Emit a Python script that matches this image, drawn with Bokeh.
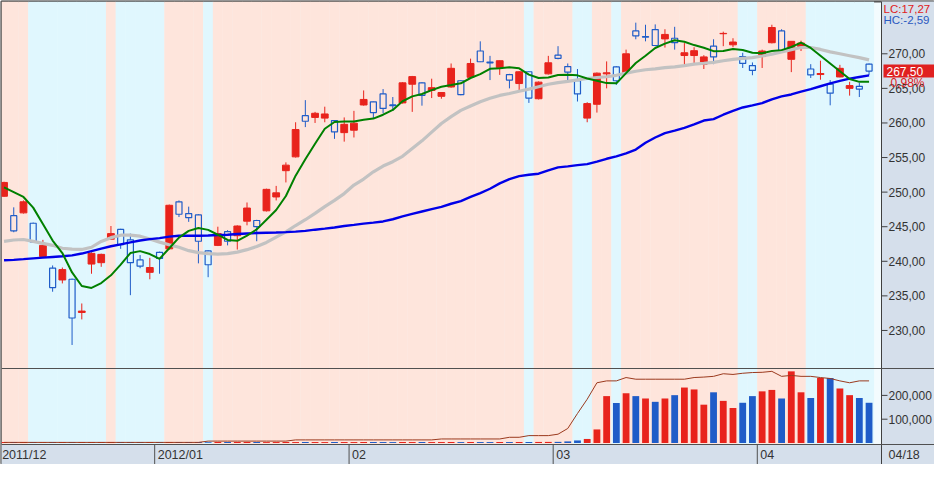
import numpy as np
from bokeh.plotting import figure
from bokeh.models import Range1d, Span
from bokeh.core.properties import value
from bokeh.embed import file_html
from bokeh.resources import INLINE

# ---------------- data ----------------
opens = [249.4, 246.6, 247.0, 245.5, 240.7, 239.0, 237.3, 237.4, 232.6, 239.6,
         239.8, 243.2, 244.6, 243.1, 240.2, 238.4, 241.3, 241.8, 248.6, 246.9,
         246.7, 241.5, 242.3, 244.3, 243.7, 245.8, 245.9, 247.3, 249.3, 253.1,
         255.1, 261.05, 260.8, 260.7, 260.35, 258.6, 258.95, 262.6, 263.05, 264.2,
         262.6, 262.9, 265.6, 265.8, 264.7, 263.85, 265.2, 266.1, 266.6, 270.4,
         268.8, 268.0, 267.0, 265.7, 267.4, 263.5, 267.1, 269.8, 268.15, 266.1,
         260.7, 262.7, 267.1, 268.1, 267.25, 273.3, 272.5, 273.5, 272.15, 272.25,
         269.75, 269.75, 268.5, 271.1, 272.9, 271.3, 269.6, 268.3, 269.6, 271.6,
         273.3, 269.2, 271.05, 267.8, 267.0, 265.6, 266.65, 265.0, 265.3, 268.5]
highs = [251.5, 247.8, 248.8, 245.6, 243.1, 239.4, 239.1, 237.5, 233.9, 241.3,
         241.1, 245.1, 244.7, 244.0, 240.9, 240.5, 241.4, 248.2, 248.8, 247.9,
         246.8, 241.6, 245.0, 244.5, 245.2, 248.5, 246.0, 250.5, 250.9, 254.3,
         260.1, 263.3, 261.6, 262.35, 260.4, 260.8, 261.75, 264.7, 263.1, 264.9,
         263.75, 265.9, 266.8, 265.9, 266.4, 264.45, 268.6, 266.2, 269.3, 271.8,
         269.7, 269.05, 267.1, 267.5, 267.5, 266.0, 269.7, 271.1, 268.6, 267.8,
         263.0, 267.3, 268.9, 268.2, 270.6, 274.5, 274.2, 274.25, 273.55, 273.9,
         271.55, 270.95, 269.8, 272.1, 273.2, 272.25, 270.15, 268.75, 270.6, 274.2,
         273.55, 271.85, 271.9, 268.5, 269.0, 266.2, 268.4, 265.95, 265.8, 268.6]
lows = [249.3, 244.2, 246.9, 242.7, 240.5, 235.6, 236.8, 227.9, 231.6, 238.2,
        239.2, 243.1, 241.8, 235.1, 239.0, 237.4, 238.2, 241.7, 246.4, 245.7,
        239.7, 237.7, 242.2, 242.3, 241.7, 245.2, 242.9, 247.2, 248.8, 251.4,
        255.0, 259.4, 260.0, 260.1, 257.7, 257.3, 257.9, 262.5, 260.6, 261.4,
        261.75, 262.8, 261.6, 262.5, 263.6, 263.5, 265.1, 264.0, 266.5, 268.8,
        266.2, 266.95, 265.0, 264.5, 262.9, 263.4, 267.0, 269.2, 266.1, 263.1,
        260.1, 261.5, 265.0, 265.5, 267.2, 272.1, 271.8, 271.1, 270.9, 270.6,
        268.35, 268.5, 267.8, 268.5, 271.1, 270.95, 267.95, 266.9, 267.95, 271.5,
        270.4, 267.35, 270.4, 266.5, 266.25, 262.55, 266.6, 263.95, 263.75, 266.9]
closes = [251.4, 244.4, 248.6, 242.8, 242.3, 236.2, 238.8, 231.8, 232.8, 241.15,
          241.0, 244.0, 242.4, 239.8, 239.3, 239.1, 240.4, 248.1, 246.8, 246.3,
          242.9, 239.5, 244.0, 242.9, 245.1, 247.7, 245.0, 250.4, 249.9, 253.9,
          259.05, 260.25, 261.4, 261.3, 258.7, 259.8, 259.97, 263.4, 261.5, 262.1,
          262.5, 265.8, 266.7, 264.0, 265.1, 264.4, 267.9, 264.1, 268.6, 268.85,
          268.7, 269.0, 266.2, 267.4, 263.6, 265.9, 268.7, 269.35, 267.35, 264.2,
          262.8, 267.2, 267.25, 266.1, 270.0, 272.6, 272.4, 271.2, 272.8, 271.6,
          270.15, 270.45, 269.55, 269.55, 272.95, 271.7, 268.6, 267.6, 270.4, 273.8,
          270.5, 271.8, 271.55, 266.95, 267.15, 264.3, 267.9, 265.4, 264.9, 267.5]

ma5 = [250.70, 250.00, 249.30, 247.76, 245.38, 243.00, 241.19, 238.39, 236.43, 236.15,
       236.85, 237.97, 239.51, 241.19, 241.47, 241.05, 240.35, 241.89, 243.42, 244.40,
       244.82, 244.54, 243.84, 243.08, 242.96, 243.70, 244.61, 246.01, 247.41, 249.44,
       252.38, 254.75, 256.99, 259.16, 260.14, 260.21, 260.21, 260.45, 260.63, 261.19,
       261.89, 263.14, 263.84, 264.19, 264.75, 265.24, 265.48, 265.73, 266.50, 267.06,
       267.83, 267.90, 268.04, 267.90, 266.99, 266.50, 266.57, 266.92, 266.96, 266.88,
       266.43, 266.11, 265.76, 265.73, 267.20, 268.67, 269.72, 270.84, 271.47, 271.96,
       271.75, 271.26, 270.88, 270.38, 270.39, 270.70, 270.56, 270.14, 270.07, 270.39,
       270.53, 270.98, 271.61, 270.84, 269.72, 268.60, 267.48, 266.36, 265.94, 265.94]
ma20 = [242.87, 243.08, 243.15, 242.87, 242.59, 242.31, 241.89, 241.75, 241.71, 242.03,
        242.87, 243.42, 243.77, 243.77, 243.63, 243.21, 242.77, 242.38, 242.03, 241.54,
        241.26, 241.12, 241.05, 241.12, 241.33, 241.68, 242.13, 242.73, 243.50, 244.26,
        245.17, 246.01, 246.92, 247.90, 248.81, 249.79, 251.02, 251.89, 252.94, 253.77,
        254.40, 255.17, 256.29, 257.41, 258.67, 259.93, 260.91, 261.82, 262.45, 263.07,
        263.56, 263.98, 264.26, 264.59, 264.89, 265.24, 265.59, 265.84, 266.01, 266.22,
        266.43, 266.57, 266.68, 266.89, 267.20, 267.48, 267.69, 267.83, 268.00, 268.12,
        268.29, 268.51, 268.63, 268.77, 268.99, 269.20, 269.33, 269.44, 269.68, 269.93,
        270.28, 270.61, 270.91, 270.91, 270.63, 270.28, 270.00, 269.72, 269.44, 269.12]
ma60 = [240.14, 240.21, 240.31, 240.42, 240.53, 240.63, 240.72, 240.86, 241.12, 241.47,
        241.82, 242.17, 242.45, 242.73, 243.01, 243.21, 243.35, 243.57, 243.70, 243.70,
        243.70, 243.73, 243.80, 243.84, 243.94, 244.01, 244.08, 244.12, 244.16, 244.22,
        244.29, 244.40, 244.57, 244.72, 244.89, 245.10, 245.27, 245.45, 245.59, 245.76,
        246.08, 246.50, 246.85, 247.20, 247.55, 247.86, 248.32, 248.70, 249.30, 249.86,
        250.49, 251.26, 251.89, 252.31, 252.52, 252.66, 253.15, 253.57, 253.73, 253.91,
        254.05, 254.40, 254.82, 255.17, 255.59, 256.15, 257.13, 257.90, 258.53, 258.88,
        259.30, 259.79, 260.35, 260.56, 261.19, 261.75, 262.24, 262.54, 262.87, 263.42,
        263.84, 264.12, 264.54, 264.89, 265.31, 265.73, 266.08, 266.40, 266.64, 266.88]

volume = [4200, 3800, 4500, 4000, 3600, 4300, 4100, 3900, 4400, 4000,
          3700, 4200, 4000, 4300, 3900, 4100, 3800, 4000, 4400, 4200,
          4000, 3600, 3900, 4100, 3800, 4000, 4200, 3700, 4000, 4300,
          3900, 4100, 4000, 3800, 4200, 4000, 3900, 4100, 4300, 4000,
          3800, 4200, 4000, 4100, 3900, 4000, 4200, 3800, 4100, 4000,
          3900, 4300, 4000, 4100, 4200, 4400, 4600, 4800, 6700, 10700,
          17000, 57000, 197000, 168000, 209000, 197000, 187000, 173000, 187000, 201000,
          233000, 225000, 161000, 213000, 177000, 147000, 169000, 197000, 217000, 223000,
          187000, 301000, 213000, 189000, 273000, 273000, 229000, 201000, 189000, 169000]
vol_dir = ("ududududuu" "uudddududd" "dduduuduuu" "uduuduuudd" "duuduuudud"
           "dududuuddd" "uuudududud" "uuuduudduu" "duududuudd")
vol_ma = [2500, 2500, 2500, 2500, 2500, 2500, 2500, 2500, 2500, 2500,
          2500, 2500, 2500, 2500, 2500, 2500, 2500, 2500, 2500, 2500,
          2500, 8000, 8000, 8000, 8000, 8000, 8000, 8000, 8000, 8000,
          13000, 13000, 13000, 13000, 13000, 13000, 13000, 13000, 13000, 13000,
          13000, 13000, 13000, 13000, 13000, 17000, 17000, 17000, 17000, 17000,
          17000, 17000, 24000, 24000, 31000, 31000, 31000, 37000, 61000, 124000,
          184000, 253000, 261000, 261000, 275000, 268000, 268000, 268000, 268000, 268000,
          268000, 275000, 277000, 280000, 291000, 288000, 293000, 296000, 297000, 301000,
          280000, 284000, 280000, 280000, 275000, 271000, 261000, 253000, 261000, 261000]

band_runs = [("p", 3), ("b", 8), ("p", 1), ("b", 5), ("p", 4), ("b", 1), ("p", 32),
             ("b", 1), ("p", 4), ("b", 2), ("p", 2), ("b", 1), ("p", 12), ("b", 2),
             ("p", 5), ("b", 7)]
month_starts = [0, 16, 36, 57, 78]
month_labels = ["2011/12", "2012/01", "02", "03", "04"]
last_date = "04/18"
price_ticks = [230.0, 235.0, 240.0, 245.0, 250.0, 255.0, 260.0, 265.0, 270.0]
vol_ticks = [100000, 200000]
lc_text = "LC:17,27"
hc_text = "HC:-2,59"

# ---------------- layout ----------------
W, H = 934, 464
FW, FH = W - 1, H - 1            # frame size (1px left/top border)
MAIN_W = 880                     # chart area width; the rest is the value panel
PANEL_W = FW - MAIN_W
MAIN_H, VOL_H = 367, 76
P_TOP, P_MAIN_BOT = 277.56, 224.5
ppx = (P_TOP - P_MAIN_BOT) / MAIN_H
P_MIN = P_TOP - FH * ppx
STRIP_TOP = P_TOP - (MAIN_H + VOL_H) * ppx
V_TOP = 313000
vzero_row = MAIN_H + VOL_H - 1.5
vpx = V_TOP / (vzero_row - MAIN_H)
V_MIN = -(FH - vzero_row) * vpx
V_MAX = vzero_row * vpx
X0, X1 = -0.26, 90.28
pxx = (X1 - X0) / MAIN_W
XR = X1 + PANEL_W * pxx

RED = "#e8231c"
BLUE = "#1f5cc8"
PANEL = "#d5dfeb"
AXC = "#404040"
FONT = "Liberation Sans"

n = len(closes)
idx = np.arange(n)
o = np.array(opens); c = np.array(closes); h = np.array(highs); l = np.array(lows)
up = c >= o
top = np.maximum(o, c); bot = np.minimum(o, c)

p = figure(width=W, height=H, x_range=Range1d(X0, XR), y_range=Range1d(P_MIN, P_TOP),
           output_backend="svg", toolbar_location=None, title=None,
           y_axis_location=None, x_axis_location=None,
           min_border_left=1, min_border_top=1, min_border_bottom=0, min_border_right=0,
           background_fill_color="#f3fbfe", border_fill_color="#606060",
           outline_line_color="#555555", outline_line_width=2)
p.extra_y_ranges = {"vol": Range1d(V_MIN, V_MAX)}
p.grid.visible = False


def tfont(size):
    return dict(text_font=value(FONT), text_font_size=size)


# background bands
band_colors = {"p": "#fee5dc", "b": "#e0f7fe"}
bc = []
for code, cnt in band_runs:
    bc += [band_colors[code]] * cnt
p.vbar(x=idx, width=1.03, top=P_TOP, bottom=STRIP_TOP, fill_color=bc, line_color=None)

# volume panel
vcol = [RED if d == "u" else BLUE for d in vol_dir]
p.vbar(x=idx, width=0.7, top=volume, bottom=0, fill_color=vcol, line_color=None,
       y_range_name="vol")
p.line(idx, vol_ma, line_color="#9b3a1e", line_width=1, y_range_name="vol")

# candles
for mask, col in ((up, RED), (~up, BLUE)):
    xs = idx[mask]
    p.segment(x0=xs, y0=top[mask], x1=xs, y1=h[mask], line_color=col, line_width=1)
    p.segment(x0=xs, y0=l[mask], x1=xs, y1=bot[mask], line_color=col, line_width=1)
p.vbar(x=idx[up], width=0.7, top=top[up], bottom=bot[up], fill_color=RED, line_color=RED)
p.vbar(x=idx[~up], width=0.62, top=top[~up], bottom=bot[~up], fill_alpha=0,
       line_color=BLUE, line_width=1.2)

# moving averages
p.line(idx, ma20, line_color="#c2c2c2", line_width=3.2)
p.line(idx, ma60, line_color="#0000e8", line_width=2.4)
p.line(idx, ma5, line_color="#008000", line_width=2)

# date strip
p.quad(left=X0 - 1, right=XR + 1, bottom=P_MIN - 1, top=STRIP_TOP, fill_color=PANEL, line_color=None)
ms = [m - 0.5 for m in month_starts]
p.segment(x0=ms[1:], y0=P_MIN, x1=ms[1:], y1=STRIP_TOP, line_color="#505050", line_width=1)
p.text(x=ms, y=(P_MIN + STRIP_TOP) / 2, text=month_labels, x_offset=3,
       text_align="left", text_baseline="middle", text_color="#333333", **tfont("12.5px"))

# value panel on the right
p.quad(left=X1, right=XR + 1, bottom=P_MIN - 1, top=P_TOP + 1, fill_color=PANEL, line_color=None)
p.segment(x0=[X1], y0=[P_MIN], x1=[X1], y1=[P_TOP], line_color=AXC, line_width=1)
vol_tick_pos = [P_MIN + (v - V_MIN) / (V_MAX - V_MIN) * (P_TOP - P_MIN) for v in vol_ticks]
tick_pos = price_ticks + vol_tick_pos
tick_txt = [("%.2f" % t).replace(".", ",") for t in price_ticks] + [f"{v:,}" for v in vol_ticks]
p.segment(x0=X1, y0=tick_pos, x1=X1 + 6 * pxx, y1=tick_pos, line_color=AXC, line_width=1)
p.text(x=X1, y=tick_pos, text=tick_txt, x_offset=7, text_align="left", text_baseline="middle",
       text_color="#333333", **tfont("12px"))

last = closes[-1]
chg = (closes[-1] / closes[-2] - 1) * 100
half = 6.5 * ppx
p.quad(left=X1 + 2 * pxx, right=XR + 1, bottom=last - half, top=last + half,
       fill_color="#e02020", line_color=None)
p.text(x=[X1], y=[last], text=[("%.2f" % last).replace(".", ",")], x_offset=5,
       text_align="left", text_baseline="middle", text_color="white", **tfont("12px"))
p.text(x=[X1], y=[last], text=[("%.2f%%" % chg).replace(".", ",")], x_offset=9, y_offset=12,
       text_align="left", text_baseline="middle", text_color="#e02020", **tfont("12px"))
p.text(x=[X1, X1], y=[P_TOP, P_TOP], text=[lc_text, hc_text], x_offset=2, y_offset=[1, 12],
       text_align="left", text_baseline="top", text_color=["#e02020", "#2a58c0"], **tfont("11.5px"))
p.text(x=[X1], y=[(P_MIN + STRIP_TOP) / 2], text=[last_date], x_offset=7,
       text_align="left", text_baseline="middle", text_color="#333333", **tfont("12.5px"))

# separators
p.add_layout(Span(location=P_MAIN_BOT, dimension="width", line_color="#505050", line_width=1))
p.add_layout(Span(location=STRIP_TOP, dimension="width", line_color="#505050", line_width=1))

open("out.html", "w").write(file_html(p, INLINE))
